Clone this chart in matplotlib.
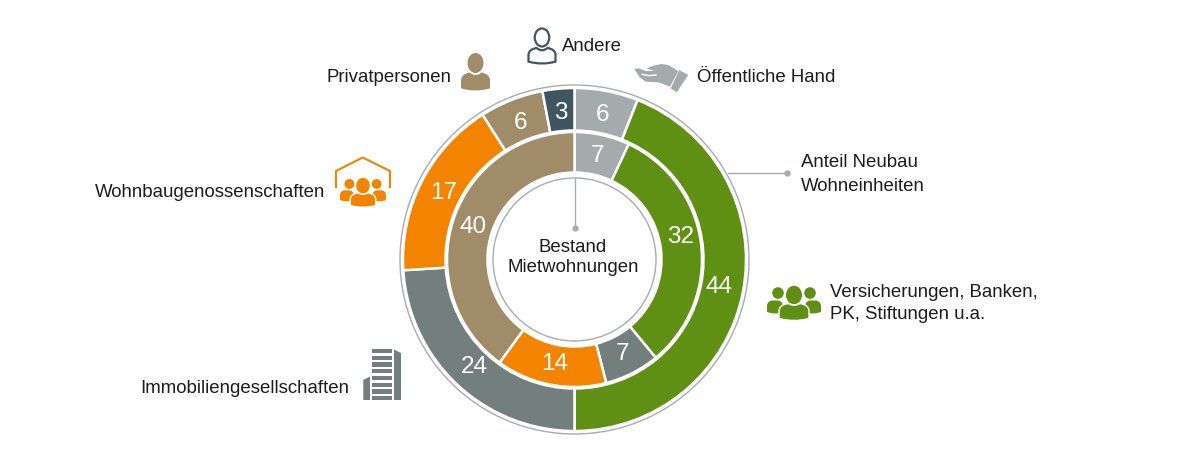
import matplotlib
matplotlib.use('Agg')
import matplotlib.pyplot as plt
from matplotlib.patches import Circle, Ellipse, Polygon, PathPatch
from matplotlib.path import Path

plt.rcParams['font.family'] = ['Liberation Sans', 'DejaVu Sans']

# Anteil Neubau Wohneinheiten (aussen), Bestand Mietwohnungen (innen)
neubau_names = ['Öffentliche Hand', 'Versicherungen', 'Immobiliengesellschaften',
                'Wohnbaugenossenschaften', 'Privatpersonen', 'Andere']
neubau_vals = [6, 44, 24, 17, 6, 3]
neubau_cols = ['#a5aaac', '#5f8f13', '#727f7d', '#f38400', '#a08c68', '#3f5660']

bestand_names = ['Öffentliche Hand', 'Versicherungen', 'Immobiliengesellschaften',
                 'Wohnbaugenossenschaften', 'Privatpersonen']
bestand_vals = [7, 32, 7, 14, 40]
bestand_cols = ['#a5aaac', '#5f8f13', '#727f7d', '#f38400', '#a08c68']

W, H = 1190, 469
CX, CY = 574.5, H - 259.5
LINE = '#a8acae'
TXT = '#1c1c1c'

fig = plt.figure(figsize=(W / 100, H / 100), dpi=100)
ax = fig.add_axes([0, 0, 1, 1])


def Y(y):
    return H - y


def pts(lst):
    return [(x, Y(y)) for x, y in lst]


def ring(vals, cols, radius, width, pctdist):
    wedges, texts, autotexts = ax.pie(
        vals, colors=cols, startangle=90, counterclock=False, center=(CX, CY), radius=radius,
        autopct=lambda p: '%.0f' % p, pctdistance=pctdist,
        wedgeprops=dict(width=width, edgecolor='white', linewidth=1.8),
        textprops=dict(color='white', fontsize=17.5))
    return autotexts


def label(x, y, s, **kw):
    ax.text(x, Y(y), s, fontsize=13.4, color=TXT, va='center', **kw)


def shoulders(cx, top, w, h, dip=0.3, **kw):
    # oberkoerper: w halbe breite, h hoehe
    def p(u, v):
        return (cx + u * w, Y(top + v * h))
    verts = [p(-0.4, 0), p(-1, 0.08), p(-1, 0.45), p(-1, 0.88), p(0, 1.12), p(1, 0.88),
             p(1, 0.45), p(1, 0.08), p(0.4, 0), p(0, dip), p(-0.4, 0), p(-0.4, 0)]
    codes = [Path.MOVETO, Path.CURVE3, Path.CURVE3, Path.LINETO, Path.CURVE3, Path.CURVE3,
             Path.LINETO, Path.CURVE3, Path.CURVE3, Path.CURVE3, Path.CURVE3, Path.CLOSEPOLY]
    ax.add_patch(PathPatch(Path(verts, codes), **kw))


def group(cx, top, s, col):
    # drei Personen, s=1 ist das gruene Icon
    for sign in (-1, 1):
        ax.add_patch(Circle((cx + sign * 16 * s, Y(top + 7 * s)), 5.8 * s, fc=col, ec='none'))
        shoulders(cx + sign * 19 * s, top + 14.5 * s, 8 * s, 13 * s, dip=0, fc=col, ec='none')
    ax.add_patch(Ellipse((cx, Y(top + 9 * s)), 16 * s, 18.5 * s, fc=col, ec='none'))
    shoulders(cx, top + 17.5 * s, 15 * s, 17 * s, dip=0.2, fc=col, ec='white', lw=1)


# Ringe
ring(neubau_vals, neubau_cols, 171.5, 42.5, 0.857)
inner = ring(bestand_vals, bestand_cols, 127.5, 40.5, 0.835)
inner[1].set_y(inner[1].get_position()[1] + 9)

ax.add_patch(Circle((CX, CY), 174.5, fc='none', ec=LINE, lw=1))
ax.add_patch(Circle((CX, CY), 81.5, fc='none', ec=LINE, lw=1))

# Hinweislinien
ax.plot([728, 787], [Y(172.5), Y(172.5)], color=LINE, lw=1)
ax.plot([787], [Y(172.5)], 'o', color=LINE, ms=3.5)
ax.plot([575, 575], [Y(178), Y(228)], color=LINE, lw=1)
ax.plot([575], [Y(228)], 'o', color=LINE, ms=3.5)

# Texte
ax.text(573, Y(247), 'Bestand', fontsize=13.4, color=TXT, ha='center', va='center')
ax.text(573, Y(267), 'Mietwohnungen', fontsize=13.4, color=TXT, ha='center', va='center')
label(801, 162, 'Anteil Neubau')
label(801, 186, 'Wohneinheiten')
label(830, 292, 'Versicherungen, Banken,')
label(830, 314, 'PK, Stiftungen u.a.')
label(697, 77, 'Öffentliche Hand')
label(562, 46, 'Andere')
label(327, 77, 'Privatpersonen')
label(95, 192, 'Wohnbaugenossenschaften')
label(140, 388, 'Immobiliengesellschaften')

# Icons
ax.add_patch(Ellipse((475.5, Y(63)), 16, 20, fc=neubau_cols[4], ec='none'))
shoulders(475.5, 72.5, 14.5, 18, fc=neubau_cols[4], ec='none')
ax.add_patch(Ellipse((542, Y(37.5)), 14.5, 18, fc='white', ec=neubau_cols[5], lw=1.6))
shoulders(542, 48, 13.5, 15.5, fc='white', ec=neubau_cols[5], lw=1.6)
group(794, 286, 1.0, neubau_cols[1])
group(363, 178, 0.85, neubau_cols[3])
ax.plot([336, 336, 362.7, 390, 390], [Y(187), Y(171), Y(157.5), Y(171), Y(187)],
        color=neubau_cols[3], lw=1.5)

# Hand
hand = [(28, 42), (42, 40), (62, 48), (88, 48), (65, 40), (85, 32), (110, 27), (130, 30),
        (160, 48), (135, 95), (100, 82), (62, 80), (45, 68)]
ax.add_patch(Polygon(pts([(625 + x / 3, 55 + y / 3) for x, y in hand]), fc=neubau_cols[0], ec='none'))
ax.plot([625 + 52 / 3, 625 + 72 / 3, 625 + 93 / 3], [Y(55 + 58 / 3), Y(55 + 62 / 3), Y(55 + 60 / 3)],
        color='white', lw=1)
ax.add_patch(Polygon(pts([(679.3, 70), (688.3, 75), (676.7, 92.3), (670.7, 88.3)]), fc=neubau_cols[0], ec='none'))

# Gebaeude
bcol = neubau_cols[2]
for i in range(8):
    top = 349 + i * 6.73
    ax.add_patch(Polygon(pts([(371.7, top), (392.3, top), (392.3, top + 4.2), (371.7, top + 4.2)]), fc=bcol, ec='none'))
ax.add_patch(Polygon(pts([(394, 349.5), (401, 353), (401, 400), (394, 400)]), fc=bcol, ec='none'))
ax.add_patch(Polygon(pts([(363.3, 380), (370, 376.5), (370, 400), (363.3, 400)]), fc=bcol, ec='none'))

ax.set_xlim(0, W)
ax.set_ylim(0, H)
ax.set_aspect('auto')
ax.axis('off')

fig.savefig('out.png', dpi=100)
